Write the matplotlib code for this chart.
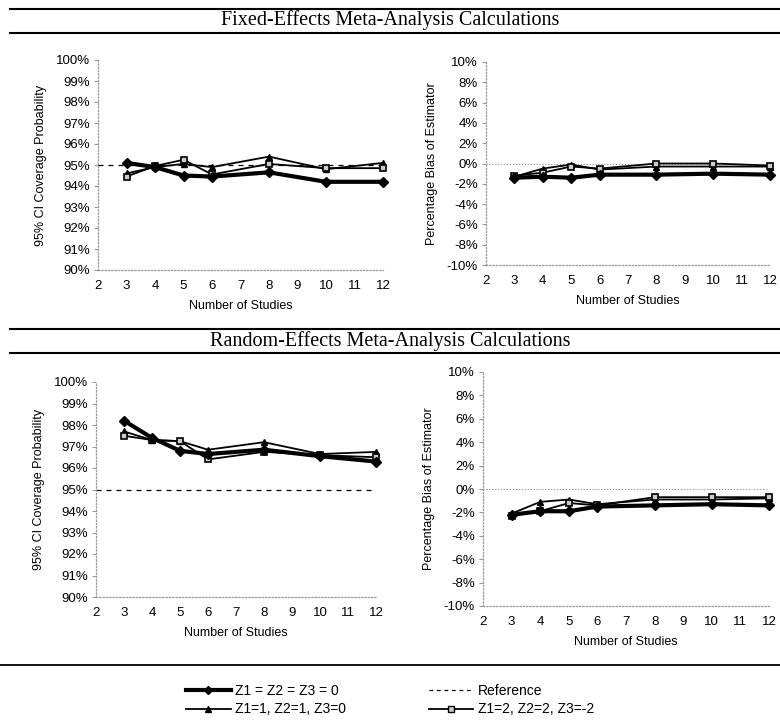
import matplotlib
matplotlib.use("Agg")
import matplotlib.pyplot as plt
from matplotlib.lines import Line2D
from matplotlib.ticker import FuncFormatter

plt.rcParams['font.family'] = ['Liberation Sans', 'DejaVu Sans']

studies = [3, 4, 5, 6, 8, 10, 12]
xticks = [2, 3, 4, 5, 6, 7, 8, 9, 10, 11, 12]

# fixed-effects, coverage (%)
fe_cov_z0 = [95.1, 94.9, 94.5, 94.45, 94.65, 94.2, 94.2]
fe_cov_z1 = [94.6, 94.9, 95.05, 94.9, 95.4, 94.8, 95.1]
fe_cov_z2 = [94.45, 94.95, 95.25, 94.55, 95.05, 94.85, 94.85]
# fixed-effects, bias (%)
fe_bias_z0 = [-1.4, -1.3, -1.4, -1.1, -1.1, -1.0, -1.1]
fe_bias_z1 = [-1.3, -0.5, -0.1, -0.6, -0.3, -0.3, -0.3]
fe_bias_z2 = [-1.2, -0.9, -0.3, -0.5, 0.0, 0.0, -0.2]
# random-effects, coverage (%)
re_cov_z0 = [98.2, 97.4, 96.8, 96.65, 96.85, 96.55, 96.3]
re_cov_z1 = [97.7, 97.3, 97.25, 96.85, 97.2, 96.65, 96.75]
re_cov_z2 = [97.5, 97.3, 97.25, 96.4, 96.75, 96.6, 96.5]
# random-effects, bias (%)
re_bias_z0 = [-2.2, -1.9, -1.9, -1.5, -1.4, -1.3, -1.4]
re_bias_z1 = [-2.1, -1.1, -0.9, -1.3, -0.9, -0.9, -0.8]
re_bias_z2 = [-2.3, -1.9, -1.2, -1.4, -0.7, -0.7, -0.7]

cov_ref = 95
bias_ref = 0

labels = ['Z1 = Z2 = Z3 = 0', 'Z1=1, Z2=1, Z3=0', 'Z1=2, Z2=2, Z3=-2', 'Reference']

W, H = 780, 720
fig = plt.figure(figsize=(7.8, 7.2), dpi=100)


def box(l, r, t, b):
    return [l / W, 1 - b / H, (r - l) / W, (b - t) / H]


def draw(ax, z0, z1, z2, ref, ylim, yticks, ylabel, coverage):
    ax.plot(studies, z0, color='black', lw=3, marker='D', ms=5, clip_on=False, zorder=5)
    ax.plot(studies, z1, color='black', lw=1.3, marker='^', ms=4, clip_on=False, zorder=4)
    ax.plot(studies, z2, color='black', lw=1.3, marker='s', ms=5, mfc='#cccccc',
            mec='black', mew=1.2, clip_on=False, zorder=4)
    if coverage:
        ax.plot([2, 12], [ref, ref], color='black', lw=0.9, ls=(0, (4, 4)), zorder=2)
    else:
        ax.plot([2, 12], [ref, ref], color='#888888', lw=0.8, ls=':', zorder=2)
    ax.set_xlim(2, 12)
    ax.set_ylim(*ylim)
    ax.set_xticks(xticks)
    ax.set_yticks(yticks)
    ax.yaxis.set_major_formatter(FuncFormatter(lambda v, p: '%d%%' % round(v)))
    for s in ['top', 'right']:
        ax.spines[s].set_visible(False)
    for s in ['left', 'bottom']:
        ax.spines[s].set_color('#999999')
        ax.spines[s].set_linestyle(':')
        ax.spines[s].set_linewidth(0.9)
    ax.tick_params(axis='y', length=3, color='#999999', labelsize=9.5, pad=3)
    ax.tick_params(axis='x', length=0, labelsize=9.5, pad=7)
    ax.set_xlabel('Number of Studies', fontsize=9, labelpad=6)
    ax.set_ylabel(ylabel, fontsize=9, labelpad=6)


cov_ticks = list(range(90, 101))
bias_ticks = list(range(-10, 11, 2))

ax1 = fig.add_axes(box(98, 383, 60, 270))
draw(ax1, fe_cov_z0, fe_cov_z1, fe_cov_z2, cov_ref, (90, 100), cov_ticks,
     '95% CI Coverage Probability', True)
ax2 = fig.add_axes(box(486, 770, 62, 265))
draw(ax2, fe_bias_z0, fe_bias_z1, fe_bias_z2, bias_ref, (-10, 10), bias_ticks,
     'Percentage Bias of Estimator', False)
ax3 = fig.add_axes(box(96, 376, 382, 597))
draw(ax3, re_cov_z0, re_cov_z1, re_cov_z2, cov_ref, (90, 100), cov_ticks,
     '95% CI Coverage Probability', True)
ax4 = fig.add_axes(box(483, 769, 372, 606))
draw(ax4, re_bias_z0, re_bias_z1, re_bias_z2, bias_ref, (-10, 10), bias_ticks,
     'Percentage Bias of Estimator', False)


def hline(y, x0=10, x1=780, lw=1.5):
    fig.add_artist(Line2D([x0 / W, x1 / W], [1 - y / H, 1 - y / H], color='black', lw=lw))


hline(9)
hline(33)
fig.text(0.5, 1 - 20 / H, 'Fixed-Effects Meta-Analysis Calculations', ha='center', va='center',
         fontsize=14.5, family=['Liberation Serif', 'DejaVu Serif'])
hline(329)
hline(353)
fig.text(0.5, 1 - 341 / H, 'Random-Effects Meta-Analysis Calculations', ha='center', va='center',
         fontsize=14.5, family=['Liberation Serif', 'DejaVu Serif'])
hline(665, 0, 780, 1.3)

handles = [
    Line2D([], [], color='black', lw=3, marker='D', ms=4),
    Line2D([], [], color='black', lw=1.3, marker='^', ms=4),
    Line2D([], [], color='black', lw=1.3, marker='s', ms=5, mfc='#cccccc', mec='black'),
    Line2D([], [], color='black', lw=0.9, ls=(0, (3, 3))),
]
order = [0, 1, 3, 2]
fig.legend([handles[i] for i in order], [labels[i] for i in order], ncol=2,
           loc='center', bbox_to_anchor=(0.5, 1 - 700 / H), frameon=False,
           fontsize=10, handlelength=3.2, columnspacing=6, labelspacing=0.35,
           handletextpad=0.3)

fig.savefig('out.png', dpi=100)
